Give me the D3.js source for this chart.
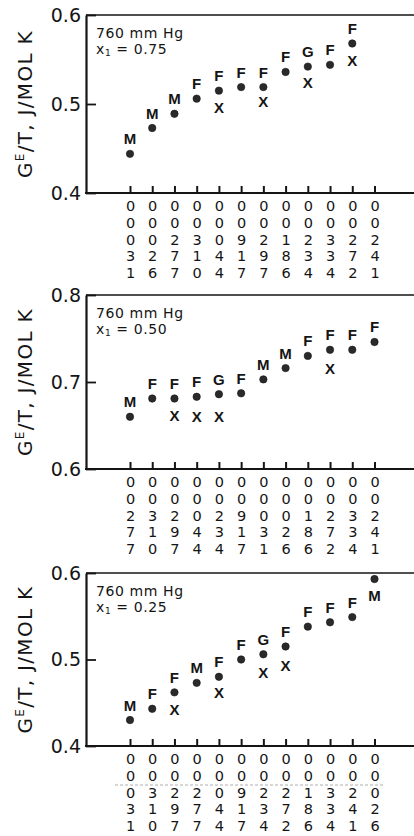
<!DOCTYPE html>
<html>
<head>
<meta charset="utf-8">
<script src="https://cdn.jsdelivr.net/npm/d3@7"></script>
<style>
  html, body { margin: 0; padding: 0; background: #fff; }
  svg { display: block; }
</style>
</head>
<body>
<svg id="chart" width="414" height="836"></svg>
<script>
// Column codes printed under each axis, digits read top to bottom
const ticks75 = ["00031","00026","00277","00310","00044","00917","00297","00186","00234","00334","00272","00241"];
const ticks50 = ["00277","00310","00297","00044","00234","00917","00031","00026","00186","00272","00334","00241"];
const ticks25 = ["00031","00310","00297","00277","00044","00917","00234","00272","00186","00334","00241","00026"];

// Excess Gibbs energy over T (J/mol K): circle values, source code letter, and X values
const gE75 = [0.444,0.473,0.489,0.506,0.515,0.519,0.519,0.536,0.542,0.544,0.568,null];
const code75 = ["M","M","M","F","F","F","F","F","G","F","F",null];
const cross75 = [null,null,null,null,0.496,null,0.503,null,0.524,null,0.549,null];

const gE50 = [0.660,0.681,0.681,0.683,0.686,0.687,0.703,0.716,0.730,0.737,0.737,0.746];
const code50 = ["M","F","F","F","G","F","M","M","F","F","F","F"];
const cross50 = [null,null,0.662,0.660,0.660,null,null,null,null,0.716,null,null];

const gE25 = [0.430,0.443,0.462,0.473,0.480,0.500,0.506,0.515,0.538,0.543,0.549,0.593];
const code25 = ["M","F","F","M","F","F","G","F","F","F","F","M"];
const cross25 = [null,null,0.442,null,0.462,null,0.485,0.493,null,null,null,null];

const yDomain75 = [0.4, 0.6];
const yDomain50 = [0.6, 0.8];
const yDomain25 = [0.4, 0.6];
const yTicks75 = [0.4, 0.5, 0.6];
const yTicks50 = [0.6, 0.7, 0.8];
const yTicks25 = [0.4, 0.5, 0.6];
const compositions = ["0.75", "0.50", "0.25"];
const pressureLabel = "760 mm Hg";

const panels = [
  { ticks: ticks75, gE: gE75, code: code75, cross: cross75, domain: yDomain75, yTicks: yTicks75, x1: compositions[0], top: 15,  bottom: 193, rule: false },
  { ticks: ticks50, gE: gE50, code: code50, cross: cross50, domain: yDomain50, yTicks: yTicks50, x1: compositions[1], top: 295, bottom: 469, rule: false },
  { ticks: ticks25, gE: gE25, code: code25, cross: cross25, domain: yDomain25, yTicks: yTicks25, x1: compositions[2], top: 573, bottom: 746, rule: true }
];

const svg = d3.select("#chart");
const W = 414;
const frameLeft = 86;
const ink = "#151515";

const x = d3.scalePoint()
  .domain(d3.range(12))
  .range([130, 374.5]);

panels.forEach(p => {
  const g = svg.append("g");
  const y = d3.scaleLinear().domain(p.domain).range([p.bottom, p.top]);

  // frame: top rule and bottom axis line run off to the right edge
  g.append("line")
    .attr("x1", frameLeft).attr("x2", W)
    .attr("y1", p.top).attr("y2", p.top)
    .attr("stroke", ink).attr("stroke-width", 1.6);
  g.append("line")
    .attr("x1", frameLeft - 1).attr("x2", W)
    .attr("y1", p.bottom).attr("y2", p.bottom)
    .attr("stroke", ink).attr("stroke-width", 2.2);

  // y axis with inward tick at the middle value
  const yAxis = d3.axisLeft(y)
    .tickValues(p.yTicks)
    .tickFormat(d3.format(".1f"))
    .tickSizeInner(-10)
    .tickSizeOuter(0)
    .tickPadding(5);
  const ya = g.append("g")
    .attr("transform", `translate(${frameLeft},0)`)
    .call(yAxis);
  ya.select(".domain").attr("stroke", ink).attr("stroke-width", 2.2);
  ya.selectAll(".tick line").attr("stroke", ink).attr("stroke-width", 1.8);
  ya.selectAll(".tick text")
    .attr("fill", ink)
    .style("font-family", "'DejaVu Sans', sans-serif")
    .style("font-size", "19px");

  // x axis: short upward ticks, labels stacked as vertical digit columns
  const xAxis = d3.axisBottom(x)
    .tickSizeInner(-7)
    .tickSizeOuter(0)
    .tickFormat(i => p.ticks[i]);
  const xa = g.append("g")
    .attr("transform", `translate(0,${p.bottom})`)
    .call(xAxis);
  xa.select(".domain").remove();
  xa.selectAll(".tick line").attr("stroke", ink).attr("stroke-width", 2);
  xa.selectAll(".tick text").each(function(i) {
    const t = d3.select(this);
    t.text(null)
      .attr("y", 0).attr("dy", null)
      .attr("fill", ink)
      .style("font-family", "'DejaVu Sans', sans-serif")
      .style("font-size", "14.5px");
    p.ticks[i].split("").forEach((ch, r) => {
      t.append("tspan")
        .attr("x", 0)
        .attr("y", 18 + r * 16.8)
        .text(ch);
    });
  });

  if (p.rule) {
    g.append("line")
      .attr("x1", 115).attr("x2", 385)
      .attr("y1", p.bottom + 39).attr("y2", p.bottom + 39)
      .attr("stroke", "#9a9a9a").attr("stroke-width", 0.8)
      .attr("stroke-dasharray", "3,2");
  }

  // y axis title
  const title = g.append("text")
    .attr("transform", `translate(32,${(p.top + p.bottom) / 2}) rotate(-90)`)
    .attr("text-anchor", "middle")
    .attr("fill", ink)
    .style("font-family", "'DejaVu Sans', sans-serif")
    .style("font-size", "20px")
    .style("letter-spacing", "1.3px");
  title.append("tspan").text("G");
  title.append("tspan").attr("dy", -8).style("font-size", "12px").text("E");
  title.append("tspan").attr("dy", 8).text("/T,  J/MOL K");

  // condition label
  const note = g.append("g")
    .attr("fill", ink)
    .style("font-family", "'DejaVu Sans', sans-serif")
    .style("font-size", "14px")
    .style("letter-spacing", "0.6px");
  note.append("text")
    .attr("x", 96).attr("y", p.top + 22.5)
    .text(pressureLabel);
  const comp = note.append("text")
    .attr("x", 96).attr("y", p.top + 39);
  comp.append("tspan").text("x");
  comp.append("tspan").attr("dy", 2).style("font-size", "9px").text("1");
  comp.append("tspan").attr("dy", -2).text(" = " + p.x1);

  // circles with source letters
  const pts = p.gE.map((v, i) => ({ i, v, c: p.code[i] })).filter(d => d.v != null);
  g.selectAll("circle.pt").data(pts).join("circle")
    .attr("class", "pt")
    .attr("cx", d => x(d.i))
    .attr("cy", d => y(d.v))
    .attr("r", 3.7)
    .attr("fill", "#2a2a2a")
    .attr("stroke", ink)
    .attr("stroke-width", 0.6);

  g.selectAll("text.code").data(pts).join("text")
    .attr("class", "code")
    .attr("x", d => x(d.i))
    .attr("y", d => {
      const above = y(d.v) - 9.5;
      return above - 11 < p.top ? y(d.v) + 22 : above;
    })
    .attr("text-anchor", "middle")
    .attr("fill", ink)
    .style("font-family", "'Liberation Sans', Arial, sans-serif")
    .style("font-weight", "bold")
    .style("font-size", "15px")
    .text(d => d.c);

  // X markers
  const xs = p.cross.map((v, i) => ({ i, v })).filter(d => d.v != null);
  g.selectAll("text.cross").data(xs).join("text")
    .attr("class", "cross")
    .attr("x", d => x(d.i))
    .attr("y", d => y(d.v) + 5.5)
    .attr("text-anchor", "middle")
    .attr("fill", ink)
    .style("font-family", "'Liberation Sans', Arial, sans-serif")
    .style("font-weight", "bold")
    .style("font-size", "15px")
    .text("X");
});
</script>
</body>
</html>
